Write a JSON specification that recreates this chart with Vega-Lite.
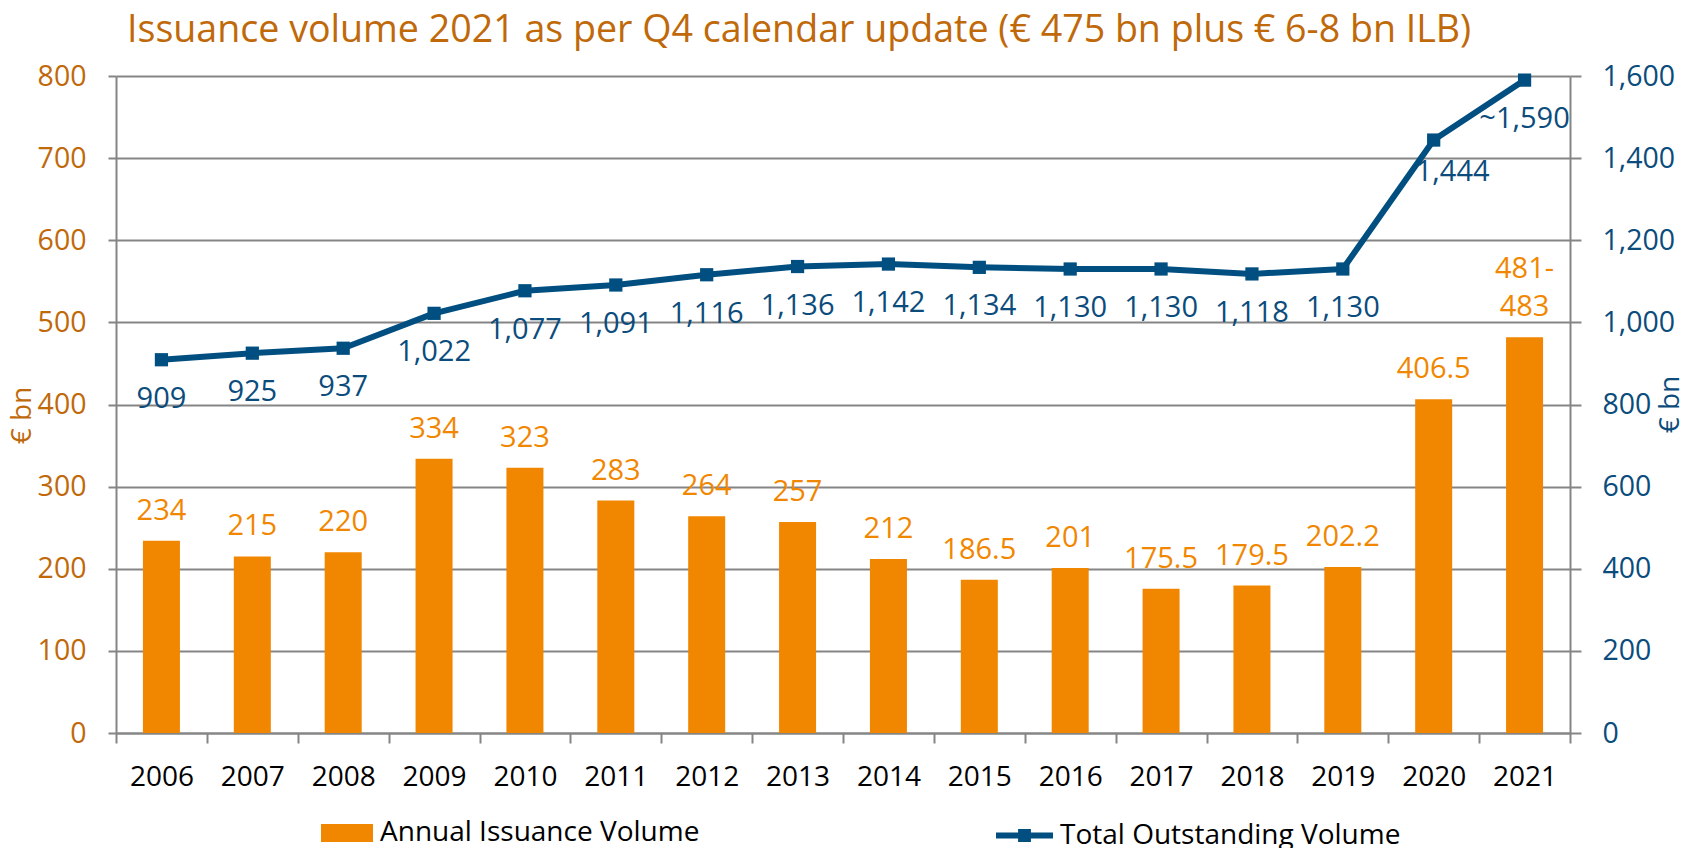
{
  "$schema": "https://vega.github.io/schema/vega-lite/v6.json",
  "width": 1454,
  "height": 657,
  "autosize": {"type": "none"},
  "padding": {"left": 116, "top": 76, "right": 128, "bottom": 115},
  "background": "white",
  "title": {
    "text": "Issuance volume 2021 as per Q4 calendar update (€ 475 bn plus € 6-8 bn ILB)",
    "anchor": "start",
    "frame": "group",
    "dx": 11,
    "offset": 12,
    "font": "Open Sans",
    "fontSize": 37.6,
    "fontWeight": "normal",
    "color": "#C0690A"
  },
  "config": {
    "view": {"stroke": null},
    "font": "Open Sans"
  },
  "data": {
    "values": [
      {"year": "2006", "issuance": 234, "issuance_label": "234", "outstanding": 909, "outstanding_label": "909"},
      {"year": "2007", "issuance": 215, "issuance_label": "215", "outstanding": 925, "outstanding_label": "925"},
      {"year": "2008", "issuance": 220, "issuance_label": "220", "outstanding": 937, "outstanding_label": "937"},
      {"year": "2009", "issuance": 334, "issuance_label": "334", "outstanding": 1022, "outstanding_label": "1,022"},
      {"year": "2010", "issuance": 323, "issuance_label": "323", "outstanding": 1077, "outstanding_label": "1,077"},
      {"year": "2011", "issuance": 283, "issuance_label": "283", "outstanding": 1091, "outstanding_label": "1,091"},
      {"year": "2012", "issuance": 264, "issuance_label": "264", "outstanding": 1116, "outstanding_label": "1,116"},
      {"year": "2013", "issuance": 257, "issuance_label": "257", "outstanding": 1136, "outstanding_label": "1,136"},
      {"year": "2014", "issuance": 212, "issuance_label": "212", "outstanding": 1142, "outstanding_label": "1,142"},
      {"year": "2015", "issuance": 186.5, "issuance_label": "186.5", "outstanding": 1134, "outstanding_label": "1,134"},
      {"year": "2016", "issuance": 201, "issuance_label": "201", "outstanding": 1130, "outstanding_label": "1,130"},
      {"year": "2017", "issuance": 175.5, "issuance_label": "175.5", "outstanding": 1130, "outstanding_label": "1,130"},
      {"year": "2018", "issuance": 179.5, "issuance_label": "179.5", "outstanding": 1118, "outstanding_label": "1,118"},
      {"year": "2019", "issuance": 202.2, "issuance_label": "202.2", "outstanding": 1130, "outstanding_label": "1,130"},
      {"year": "2020", "issuance": 406.5, "issuance_label": "406.5", "outstanding": 1444, "outstanding_label": "1,444"},
      {"year": "2021", "issuance": 482, "issuance_label": "481-\n483", "outstanding": 1590, "outstanding_label": "~1,590"}
    ]
  },
  "encoding": {
    "x": {
      "field": "year",
      "type": "ordinal",
      "scale": {"paddingInner": 0, "paddingOuter": 0},
      "axis": {
        "title": null,
        "labelAngle": 0,
        "labelFont": "Open Sans",
        "labelFontSize": 28,
        "labelColor": "#000000",
        "labelPadding": 20,
        "tickBand": "extent",
        "tickSize": 10,
        "tickWidth": 2,
        "tickColor": "#858585",
        "domainColor": "#858585",
        "domainWidth": 2,
        "grid": false
      }
    }
  },
  "layer": [
    {
      "layer": [
        {
          "mark": {"type": "bar", "size": 37},
          "encoding": {
            "y": {
              "field": "issuance",
              "type": "quantitative",
              "scale": {"domain": [0, 800], "nice": false},
              "axis": {
                "title": "€ bn",
                "titleFont": "Open Sans",
                "titleFontSize": 28,
                "titleFontWeight": "normal",
                "titleColor": "#C0690A",
                "titleAngle": 270,
                "titleBaseline": "middle",
                "titleAlign": "center",
                "titleX": -94,
                "titleY": 339,
                "values": [0, 100, 200, 300, 400, 500, 600, 700, 800],
                "format": "d",
                "labelFont": "Open Sans",
                "labelFontSize": 28.5,
                "labelColor": "#C0690A",
                "labelPadding": 22,
                "tickSize": 8,
                "tickWidth": 2,
                "tickColor": "#858585",
                "domainColor": "#858585",
                "domainWidth": 2,
                "grid": true,
                "gridColor": "#858585",
                "gridWidth": 2
              }
            },
            "fill": {
              "datum": "Annual Issuance Volume",
              "type": "nominal",
              "scale": {"domain": ["Annual Issuance Volume"], "range": ["#F18700"]},
              "legend": {
                "orient": "none",
                "legendX": 205,
                "legendY": 731,
                "title": null,
                "padding": 0,
                "symbolType": "M-1,-0.35H1V0.35H-1Z",
                "symbolSize": 2704,
                "symbolStrokeWidth": 0,
                "labelFont": "Open Sans",
                "labelFontSize": 28,
                "labelColor": "#000000",
                "labelOffset": 7,
                "labelLimit": 500
              }
            }
          }
        },
        {
          "transform": [{"filter": "datum.year != '2021'"}],
          "mark": {"type": "text", "baseline": "bottom", "align": "center", "dy": -15, "fontSize": 29, "font": "Open Sans", "color": "#F18700"},
          "encoding": {
            "y": {"field": "issuance", "type": "quantitative"},
            "text": {"field": "issuance_label"}
          }
        },
        {
          "transform": [{"filter": "datum.year == '2021'"}],
          "mark": {"type": "text", "baseline": "bottom", "align": "center", "dy": -53, "fontSize": 29, "font": "Open Sans", "color": "#F18700", "lineBreak": "\n", "lineHeight": 38},
          "encoding": {
            "y": {"field": "issuance", "type": "quantitative"},
            "text": {"field": "issuance_label"}
          }
        }
      ]
    },
    {
      "layer": [
        {
          "mark": {"type": "line", "strokeWidth": 6, "strokeJoin": "round"},
          "encoding": {
            "y": {
              "field": "outstanding",
              "type": "quantitative",
              "scale": {"domain": [0, 1600], "nice": false},
              "axis": {
                "orient": "right",
                "title": "€ bn",
                "titleFont": "Open Sans",
                "titleFontSize": 28,
                "titleFontWeight": "normal",
                "titleColor": "#0B4C7C",
                "titleAngle": 270,
                "titleBaseline": "middle",
                "titleAlign": "center",
                "titleX": 100,
                "titleY": 328,
                "values": [0, 200, 400, 600, 800, 1000, 1200, 1400, 1600],
                "format": ",d",
                "labelFont": "Open Sans",
                "labelFontSize": 28.5,
                "labelColor": "#0B4C7C",
                "labelPadding": 21,
                "tickSize": 11,
                "tickWidth": 2,
                "tickColor": "#858585",
                "domainColor": "#858585",
                "domainWidth": 2,
                "grid": false
              }
            },
            "stroke": {
              "datum": "Total Outstanding Volume",
              "type": "nominal",
              "scale": {"domain": ["Total Outstanding Volume"], "range": ["#004F80"]},
              "legend": {
                "orient": "none",
                "legendX": 877,
                "legendY": 728,
                "title": null,
                "padding": 0,
                "symbolType": "M-1,0H1M-0.12,-0.12H0.12V0.12H-0.12Z",
                "symbolSize": 3249,
                "symbolStrokeWidth": 6,
                "symbolFillColor": "#004F80",
                "labelFont": "Open Sans",
                "labelFontSize": 28,
                "labelColor": "#000000",
                "labelOffset": 4,
                "labelLimit": 500
              }
            }
          }
        },
        {
          "mark": {"type": "point", "shape": "square", "filled": true, "size": 175, "color": "#004F80", "opacity": 1},
          "encoding": {
            "y": {"field": "outstanding", "type": "quantitative"}
          }
        },
        {
          "transform": [{"filter": "datum.year != '2020'"}],
          "mark": {"type": "text", "baseline": "alphabetic", "align": "center", "dy": 48, "fontSize": 29, "font": "Open Sans", "color": "#0B4C7C"},
          "encoding": {
            "y": {"field": "outstanding", "type": "quantitative"},
            "text": {"field": "outstanding_label"}
          }
        },
        {
          "transform": [{"filter": "datum.year == '2020'"}],
          "mark": {"type": "text", "baseline": "alphabetic", "align": "center", "dy": 41, "dx": 19, "fontSize": 29, "font": "Open Sans", "color": "#0B4C7C"},
          "encoding": {
            "y": {"field": "outstanding", "type": "quantitative"},
            "text": {"field": "outstanding_label"}
          }
        }
      ]
    }
  ],
  "resolve": {"scale": {"y": "independent"}}
}
